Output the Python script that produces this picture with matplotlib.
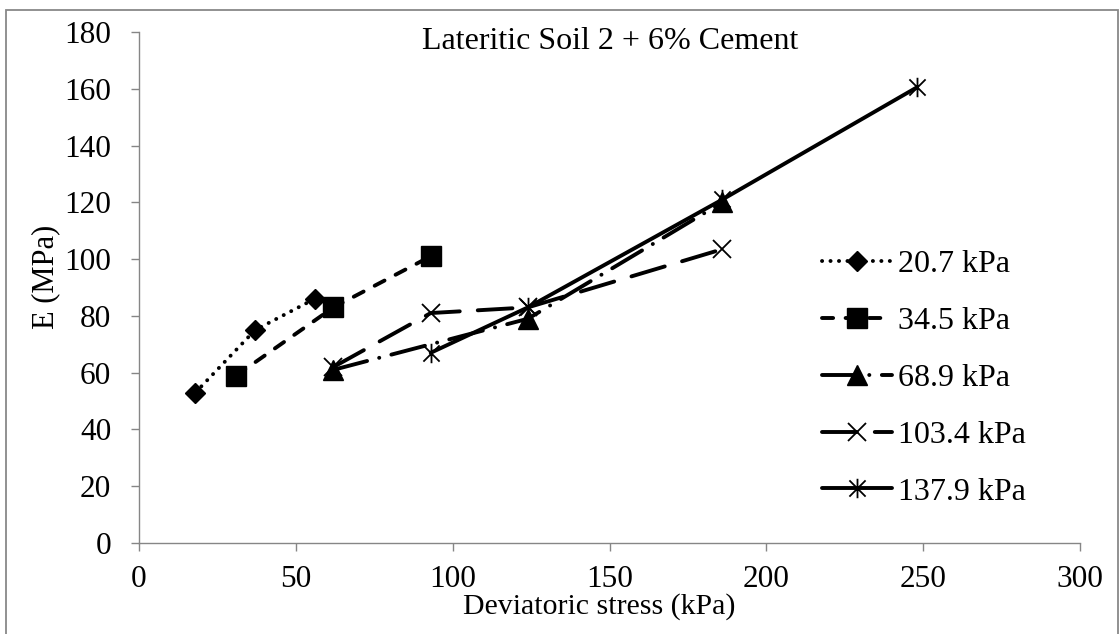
import matplotlib
matplotlib.use("Agg")
import matplotlib.pyplot as plt
from matplotlib.path import Path
from matplotlib.patches import Rectangle

plt.rcParams['font.family'] = ['Liberation Serif', 'DejaVu Serif']
plt.rcParams['lines.scale_dashes'] = False

# ---- data ----
x_207 = [18, 37, 56]
e_207 = [53, 75, 86]
x_345 = [31, 62, 93]
e_345 = [59, 83, 101]
x_689 = [62, 124, 186]
e_689 = [61, 79, 120]
x_1034 = [62, 93, 124, 186]
e_1034 = [62, 81, 83, 103.5]
x_1379 = [93, 124, 186, 248]
e_1379 = [67, 83, 121, 160.5]
labels = ["20.7 kPa", "34.5 kPa", "68.9 kPa", "103.4 kPa", "137.9 kPa"]
xticks = [0, 50, 100, 150, 200, 250, 300]
yticks = [0, 20, 40, 60, 80, 100, 120, 140, 160, 180]
title_text = "Lateritic Soil 2 + 6% Cement"
xlabel = "Deviatoric stress (kPa)"
ylabel = "E (MPa)"

W, H = 1120, 634
fig = plt.figure(figsize=(W / 100, H / 100), dpi=100)
ax = fig.add_axes([139 / W, 1 - 543 / H, (1080 - 139) / W, (543 - 32) / H])

# star marker: x plus vertical bar
star = Path([(-0.5, -0.5), (0.5, 0.5), (-0.5, 0.5), (0.5, -0.5), (0, -0.6), (0, 0.6)],
            [Path.MOVETO, Path.LINETO, Path.MOVETO, Path.LINETO, Path.MOVETO, Path.LINETO])

lw = 2.8
k = dict(color='black', lw=lw, dash_capstyle='round', solid_capstyle='round')
ax.plot(x_207, e_207, ls=(0, (0.1, 6.0)), marker='D', ms=10.5, label=labels[0], **k)
ax.plot(x_345, e_345, ls=(0, (8, 9)), marker='s', ms=14, label=labels[1], **k)
ax.plot(x_689, e_689, ls=(0, (25, 9, 0.1, 9)), marker='^', ms=14, label=labels[2], **k)
ax.plot(x_1034, e_1034, ls=(0, (25, 13)), marker='x', ms=13, mew=1.3, label=labels[3], **k)
ax.plot(x_1379, e_1379, ls='-', marker=star, ms=14, mew=1.3, label=labels[4], **k)

ax.set_xlim(0, 300)
ax.set_ylim(0, 180)
ax.set_xticks(xticks)
ax.set_yticks(yticks)
for s in ['top', 'right']:
    ax.spines[s].set_visible(False)
for s in ['left', 'bottom']:
    ax.spines[s].set_color('#868686')
    ax.spines[s].set_linewidth(1.0)
ax.tick_params(axis='both', colors='#868686', labelcolor='black', labelsize=22.5,
               length=6, width=1.0, direction='out')
ax.tick_params(axis='y', pad=14)
ax.tick_params(axis='x', pad=10)

ax.set_xlabel(xlabel, fontsize=21.5)
ax.set_ylabel(ylabel, fontsize=22)
ax.xaxis.set_label_coords(0.489, -0.097)
ax.yaxis.set_label_coords(-0.084, 0.52)

ax.text(150.2, 176.5, title_text, fontsize=23, ha='center', va='center')

leg = ax.legend(loc='upper left', bbox_to_anchor=(0.695, 0.63), frameon=False,
                fontsize=23, handlelength=2.2, handletextpad=0.2, labelspacing=0.86)

fig.patches.append(Rectangle((6 / W, -0.1), (1118 - 6) / W, 1.1 - 10 / H + 0.0,
                             transform=fig.transFigure, fill=False,
                             edgecolor='#888888', lw=1.3))

fig.savefig("out.png", dpi=100)
